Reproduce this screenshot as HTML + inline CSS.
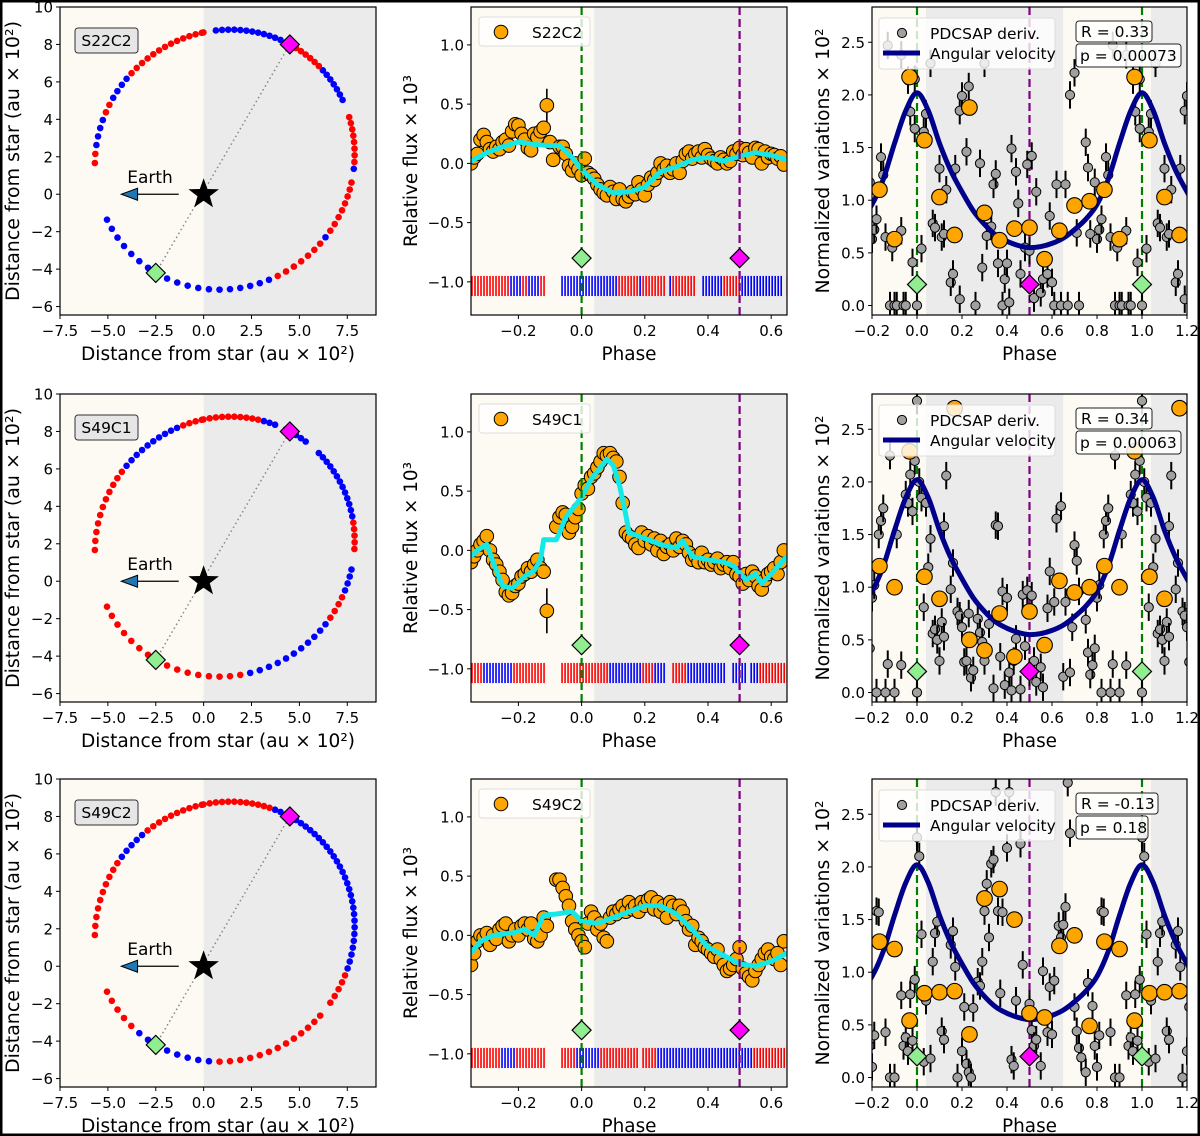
<!DOCTYPE html>
<html><head><meta charset="utf-8">
<style>
html,body{margin:0;padding:0;background:#fff;}
svg{display:block;font-family:"DejaVu Sans","Liberation Sans",sans-serif;}
</style></head>
<body>
<svg id="fig" width="1200" height="1136" viewBox="0 0 1200 1136" xmlns="http://www.w3.org/2000/svg"></svg>
<script>
// ---------- DATA ----------
const rowNames = ['S22C2','S49C1','S49C2'];
const statR = ['R = 0.33','R = 0.34','R = -0.13'];
const statP = ['p = 0.00073','p = 0.00063','p = 0.18'];

// Orbit parameters (au x 10^2)
const orbitA = 7.03;
const orbitE = 0.306;
const orbitOmegaDeg = -120.8;
const periPt = [-2.5,-4.2];
const apoPt = [4.5,8.0];

// Rug / orbit colour segments: [startPhase, endPhase, colour]
const rug1 = [[-0.35,-0.23,'r'],[-0.23,-0.19,'b'],[-0.19,-0.17,'r'],[-0.17,-0.14,'b'],[-0.14,-0.12,'r'],[-0.07,0.11,'b'],[0.11,0.18,'r'],[0.18,0.19,'b'],[0.19,0.26,'r'],[0.27,0.28,'b'],[0.28,0.36,'r'],[0.38,0.44,'b'],[0.44,0.50,'r'],[0.50,0.63,'b'],[0.64,0.65,'r']];
const rug2 = [[-0.35,-0.32,'r'],[-0.32,-0.22,'b'],[-0.22,-0.12,'r'],[-0.073,0.087,'r'],[0.087,0.187,'b'],[0.187,0.224,'r'],[0.224,0.266,'b'],[0.282,0.334,'r'],[0.334,0.45,'b'],[0.476,0.518,'b'],[0.53,0.56,'b'],[0.56,0.65,'r']];
const rug3 = [[-0.35,-0.26,'r'],[-0.26,-0.213,'b'],[-0.213,-0.118,'r'],[-0.073,-0.023,'r'],[-0.023,0.056,'b'],[0.056,0.177,'r'],[0.19,0.235,'r'],[0.235,0.54,'b'],[0.54,0.65,'r']];

// Middle panel flux points [phase, value]
const flux1 = [[-0.35,0.0],[-0.34,0.05],[-0.33,0.08],[-0.32,0.2],[-0.31,0.24],[-0.3,0.18],[-0.29,0.12],[-0.28,0.1],[-0.27,0.14],[-0.26,0.12],[-0.25,0.18],[-0.24,0.2],[-0.23,0.15],[-0.22,0.27],[-0.21,0.33],[-0.2,0.32],[-0.19,0.25],[-0.18,0.2],[-0.17,0.13],[-0.16,0.11],[-0.15,0.25],[-0.14,0.22],[-0.13,0.27],[-0.12,0.3],[-0.11,0.49],[-0.1,0.18],[-0.09,0.03],[-0.07,0.14],[-0.06,0.14],[-0.05,0.08],[-0.04,-0.02],[-0.03,-0.06],[-0.02,0.0],[-0.01,-0.05],[0.0,-0.1],[0.01,0.04],[0.02,-0.08],[0.03,-0.1],[0.04,-0.13],[0.05,-0.18],[0.06,-0.22],[0.07,-0.25],[0.08,-0.27],[0.09,-0.2],[0.1,-0.24],[0.11,-0.3],[0.12,-0.22],[0.13,-0.3],[0.14,-0.32],[0.15,-0.28],[0.16,-0.24],[0.17,-0.26],[0.18,-0.16],[0.19,-0.22],[0.2,-0.27],[0.21,-0.18],[0.22,-0.12],[0.23,-0.14],[0.24,-0.08],[0.25,0.0],[0.26,-0.05],[0.27,-0.02],[0.28,-0.08],[0.29,-0.05],[0.3,0.0],[0.31,-0.08],[0.32,0.02],[0.33,0.08],[0.34,0.1],[0.35,0.04],[0.36,0.08],[0.37,0.1],[0.38,0.05],[0.39,0.12],[0.4,0.07],[0.41,0.04],[0.42,0.02],[0.43,0.0],[0.44,0.05],[0.45,0.03],[0.46,0.0],[0.47,0.02],[0.48,0.1],[0.49,0.08],[0.5,0.13],[0.51,0.07],[0.52,0.12],[0.53,0.09],[0.54,0.05],[0.55,0.13],[0.56,0.12],[0.57,0.0],[0.58,0.1],[0.59,0.05],[0.6,0.08],[0.61,0.07],[0.62,0.04],[0.63,0.06],[0.64,-0.01]];
const flux2 = [[-0.35,-0.1],[-0.34,-0.05],[-0.33,0.0],[-0.32,0.05],[-0.31,0.08],[-0.30,0.12],[-0.29,0.0],[-0.28,-0.08],[-0.27,-0.12],[-0.26,-0.18],[-0.25,-0.25],[-0.24,-0.35],[-0.23,-0.38],[-0.22,-0.36],[-0.21,-0.3],[-0.2,-0.28],[-0.19,-0.22],[-0.18,-0.2],[-0.17,-0.15],[-0.16,-0.18],[-0.15,-0.12],[-0.14,-0.08],[-0.13,-0.15],[-0.12,-0.18],[-0.11,-0.51],[-0.08,0.2],[-0.07,0.28],[-0.06,0.32],[-0.05,0.3],[-0.04,0.15],[-0.03,0.2],[-0.02,0.28],[-0.01,0.35],[0.0,0.48],[0.01,0.55],[0.02,0.52],[0.03,0.62],[0.04,0.65],[0.05,0.7],[0.06,0.75],[0.07,0.82],[0.08,0.8],[0.09,0.82],[0.1,0.78],[0.11,0.75],[0.12,0.62],[0.13,0.4],[0.14,0.15],[0.15,0.12],[0.16,0.1],[0.17,0.05],[0.18,0.02],[0.19,0.15],[0.2,0.08],[0.21,0.12],[0.22,0.05],[0.23,0.1],[0.24,0.0],[0.25,0.08],[0.26,-0.03],[0.27,0.03],[0.28,0.05],[0.29,0.0],[0.3,0.1],[0.31,0.03],[0.32,0.08],[0.33,0.05],[0.34,-0.02],[0.35,-0.08],[0.36,-0.05],[0.37,-0.1],[0.38,-0.02],[0.39,-0.1],[0.4,-0.08],[0.41,-0.12],[0.42,-0.1],[0.43,-0.07],[0.44,-0.15],[0.45,-0.12],[0.46,-0.1],[0.47,-0.15],[0.48,-0.1],[0.49,-0.2],[0.5,-0.22],[0.51,-0.28],[0.52,-0.2],[0.53,-0.25],[0.54,-0.18],[0.55,-0.22],[0.56,-0.3],[0.57,-0.33],[0.58,-0.25],[0.59,-0.2],[0.6,-0.18],[0.61,-0.15],[0.62,-0.2],[0.63,-0.1],[0.64,0.0]];
const flux3 = [[-0.35,-0.25],[-0.34,-0.15],[-0.33,-0.05],[-0.32,0.0],[-0.31,-0.02],[-0.3,0.02],[-0.29,-0.08],[-0.28,0.0],[-0.27,-0.03],[-0.26,0.05],[-0.25,0.08],[-0.24,0.1],[-0.23,-0.05],[-0.22,0.0],[-0.21,0.05],[-0.2,0.0],[-0.19,0.08],[-0.18,0.1],[-0.17,0.05],[-0.16,0.1],[-0.15,-0.03],[-0.14,-0.05],[-0.13,0.0],[-0.12,0.15],[-0.11,0.08],[-0.08,0.47],[-0.07,0.47],[-0.06,0.4],[-0.05,0.33],[-0.04,0.25],[-0.03,0.12],[-0.02,0.05],[-0.01,0.0],[0.0,-0.05],[0.01,-0.1],[0.02,0.1],[0.03,0.2],[0.04,0.15],[0.05,0.05],[0.06,0.1],[0.07,-0.02],[0.08,-0.05],[0.09,0.15],[0.1,0.2],[0.11,0.18],[0.12,0.22],[0.13,0.25],[0.14,0.2],[0.15,0.28],[0.16,0.22],[0.17,0.25],[0.18,0.2],[0.19,0.28],[0.2,0.25],[0.21,0.3],[0.22,0.32],[0.23,0.22],[0.24,0.28],[0.25,0.2],[0.26,0.25],[0.27,0.15],[0.28,0.28],[0.29,0.25],[0.3,0.18],[0.31,0.25],[0.32,0.2],[0.33,0.12],[0.34,0.05],[0.35,0.08],[0.36,-0.08],[0.37,-0.02],[0.38,-0.05],[0.39,-0.1],[0.4,-0.12],[0.41,-0.15],[0.42,-0.18],[0.43,-0.12],[0.44,-0.2],[0.45,-0.25],[0.46,-0.3],[0.47,-0.28],[0.48,-0.25],[0.49,-0.2],[0.5,-0.1],[0.51,-0.28],[0.52,-0.32],[0.53,-0.35],[0.54,-0.38],[0.55,-0.3],[0.56,-0.25],[0.57,-0.2],[0.58,-0.15],[0.59,-0.12],[0.6,-0.18],[0.61,-0.2],[0.62,-0.15],[0.63,-0.25],[0.64,-0.05]];
// Outlier points with error bars [phase, value, err]
const fluxOut1 = [[-0.11,0.49,0.14]];
const fluxOut2 = [[-0.11,-0.51,0.19]];
const fluxOut3 = [];

// Smoothed (cyan) curves
const smooth1 = [[-0.35,0.02],[-0.3,0.09],[-0.25,0.14],[-0.2,0.18],[-0.15,0.16],[-0.1,0.15],[-0.07,0.15],[-0.03,0.05],[0.0,-0.05],[0.05,-0.18],[0.1,-0.25],[0.15,-0.24],[0.2,-0.2],[0.25,-0.07],[0.3,-0.03],[0.35,0.03],[0.4,0.05],[0.45,0.02],[0.5,0.06],[0.55,0.09],[0.6,0.07],[0.65,0.03]];
const smooth2 = [[-0.35,-0.05],[-0.33,0.0],[-0.3,0.05],[-0.28,-0.1],[-0.25,-0.3],[-0.22,-0.32],[-0.18,-0.22],[-0.15,-0.17],[-0.13,-0.08],[-0.12,0.09],[-0.08,0.09],[-0.07,0.15],[-0.05,0.28],[-0.02,0.38],[0.0,0.45],[0.03,0.6],[0.06,0.7],[0.08,0.77],[0.1,0.72],[0.12,0.55],[0.14,0.3],[0.15,0.15],[0.2,0.1],[0.25,0.05],[0.3,0.02],[0.32,0.08],[0.35,-0.05],[0.4,-0.08],[0.45,-0.1],[0.48,-0.13],[0.52,-0.25],[0.55,-0.2],[0.57,-0.28],[0.6,-0.2],[0.65,-0.05]];
const smooth3 = [[-0.35,-0.15],[-0.32,-0.05],[-0.28,0.0],[-0.22,0.02],[-0.18,0.05],[-0.15,0.0],[-0.12,0.17],[-0.08,0.18],[-0.03,0.2],[0.0,0.12],[0.05,0.1],[0.1,0.15],[0.15,0.2],[0.2,0.25],[0.25,0.25],[0.3,0.18],[0.35,0.05],[0.4,-0.1],[0.45,-0.17],[0.5,-0.24],[0.55,-0.26],[0.6,-0.22],[0.65,-0.15]];

// Right panel: binned (orange) points, period 1
const binPhase = [0.033,0.1,0.167,0.233,0.3,0.367,0.433,0.5,0.567,0.633,0.7,0.767,0.833,0.9,0.967];
const bin1 = [1.57,1.03,0.67,1.88,0.88,0.62,0.73,0.74,0.44,0.71,0.95,0.99,1.10,0.63,2.17];
const bin2 = [1.10,0.89,2.70,0.50,0.40,0.75,0.34,0.77,0.45,1.06,0.95,1.00,1.20,1.00,2.29];
const bin3 = [0.80,0.81,0.82,0.41,1.70,1.79,1.50,0.61,0.57,1.25,1.35,0.49,1.29,1.22,0.54];

// Angular velocity model over one period (step 0.05)
const avPhase = [0,0.05,0.1,0.15,0.2,0.25,0.3,0.35,0.4,0.45,0.5,0.55,0.6,0.65,0.7,0.75,0.8,0.85,0.9,0.95,1.0];
const avValue = [2.02,1.85,1.54,1.28,1.08,0.90,0.77,0.67,0.61,0.57,0.55,0.56,0.59,0.64,0.72,0.82,0.96,1.2,1.54,1.85,2.02];

// PDCSAP derivative points [phase, value]
const gray1 = [[0.02,0.54],[0.03,1.65],[0.04,1.82],[0.06,2.3],[0.07,0.78],[0.08,0.74],[0.1,1.3],[0.11,0.65],[0.12,0.68],[0.13,1.1],[0.15,0.22],[0.16,0.3],[0.17,1.3],[0.19,0.06],[0.19,1.85],[0.2,1.99],[0.22,1.46],[0.23,2.08],[0.26,0.0],[0.28,1.35],[0.29,0.36],[0.30,2.3],[0.31,0.66],[0.33,0.75],[0.34,1.15],[0.35,1.25],[0.36,0.4],[0.38,0.0],[0.39,0.25],[0.40,0.40],[0.41,0.03],[0.42,1.49],[0.44,1.27],[0.45,0.97],[0.46,0.3],[0.48,0.55],[0.49,1.34],[0.50,0.52],[0.51,1.42],[0.52,0.07],[0.53,1.08],[0.55,0.12],[0.56,0.25],[0.58,0.3],[0.59,0.85],[0.60,0.22],[0.61,0.0],[0.62,1.15],[0.64,0.0],[0.66,1.15],[0.67,0.0],[0.68,2.0],[0.7,2.21],[0.71,0.69],[0.72,0.0],[0.75,1.55],[0.76,1.31],[0.77,0.68],[0.79,1.17],[0.80,0.63],[0.81,0.72],[0.82,0.82],[0.84,1.41],[0.85,1.24],[0.86,0.65],[0.87,2.47],[0.88,0.0],[0.89,0.55],[0.90,0.0],[0.91,0.0],[0.93,0.71],[0.94,0.0],[0.95,0.0],[0.97,1.84],[0.98,0.41],[0.99,1.68],[1.0,0.0],[0.99,2.15],[0.93,2.38],[0.96,2.14]];
const gray2 = [[0.0,0.0],[0.0,2.77],[0.01,2.0],[0.02,1.85],[0.03,0.81],[0.04,1.8],[0.05,1.19],[0.06,1.46],[0.07,0.56],[0.08,0.6],[0.09,0.5],[0.1,0.3],[0.11,0.67],[0.12,0.53],[0.12,1.58],[0.13,2.06],[0.15,0.98],[0.16,1.23],[0.18,0.77],[0.19,0.73],[0.2,0.62],[0.21,0.29],[0.22,0.3],[0.23,0.75],[0.24,0.14],[0.25,0.21],[0.27,0.7],[0.28,0.57],[0.29,0.48],[0.3,0.3],[0.32,0.65],[0.34,0.04],[0.35,1.59],[0.36,1.58],[0.37,0.34],[0.38,0.96],[0.39,0.07],[0.4,0.9],[0.41,0.19],[0.42,0.02],[0.43,0.3],[0.44,0.51],[0.46,0.03],[0.47,0.93],[0.48,0.44],[0.49,0.97],[0.5,0.19],[0.51,0.92],[0.52,0.3],[0.53,0.1],[0.55,0.24],[0.56,0.05],[0.58,0.8],[0.59,1.15],[0.61,0.86],[0.62,1.65],[0.64,1.77],[0.65,0.15],[0.66,0.86],[0.68,0.19],[0.69,0.62],[0.7,1.4],[0.71,1.25],[0.72,0.96],[0.75,0.69],[0.76,0.38],[0.77,0.17],[0.78,0.26],[0.79,0.42],[0.8,0.9],[0.81,1.02],[0.82,0.0],[0.83,1.5],[0.84,1.63],[0.85,1.75],[0.86,0.0],[0.87,0.27],[0.88,2.25],[0.9,0.0],[0.91,1.5],[0.93,0.26],[0.95,1.88],[0.96,1.8],[0.97,2.07],[0.98,1.72],[0.99,2.2]];
const gray3 = [[0.0,2.28],[0.01,2.1],[0.02,1.36],[0.03,0.15],[0.04,0.73],[0.06,0.18],[0.07,1.1],[0.08,1.37],[0.09,1.48],[0.11,0.44],[0.12,0.36],[0.15,1.26],[0.16,1.39],[0.17,1.05],[0.18,0.0],[0.2,0.25],[0.21,0.67],[0.22,0.13],[0.23,0.05],[0.24,0.0],[0.25,0.66],[0.27,0.91],[0.28,0.87],[0.29,1.1],[0.3,1.58],[0.31,1.84],[0.32,1.33],[0.33,2.03],[0.34,2.07],[0.35,2.71],[0.36,1.58],[0.37,0.8],[0.38,1.57],[0.4,2.18],[0.41,2.71],[0.42,0.17],[0.43,0.11],[0.44,0.73],[0.46,2.22],[0.47,1.07],[0.5,0.7],[0.51,0.45],[0.52,0.3],[0.53,0.36],[0.55,0.11],[0.56,1.01],[0.58,0.43],[0.59,0.86],[0.6,0.41],[0.61,0.92],[0.63,1.44],[0.64,1.33],[0.65,1.45],[0.66,1.62],[0.67,2.8],[0.68,2.32],[0.7,0.67],[0.71,0.44],[0.72,0.28],[0.73,0.19],[0.75,0.05],[0.76,0.9],[0.78,0.68],[0.79,0.3],[0.8,0.1],[0.81,0.4],[0.82,1.58],[0.83,1.57],[0.86,0.43],[0.88,0.0],[0.9,0.0],[0.93,0.78],[0.94,0.3],[0.95,0.38],[0.96,0.25],[0.97,0.79],[0.99,0.93],[0.98,0.35]];

const leftXTicks = [-7.5,-5,-2.5,0,2.5,5,7.5];
const leftYTicks = [-6,-4,-2,0,2,4,6,8,10];
const midXTicks = [-0.2,0,0.2,0.4,0.6];
const midYTicks = [-1,-0.5,0,0.5,1];
const rightXTicks = [-0.2,0,0.2,0.4,0.6,0.8,1.0,1.2];
const rightYTicks = [0,0.5,1,1.5,2,2.5];

// ---------- DRAWING ----------
const NS='http://www.w3.org/2000/svg';
const svg=document.getElementById('fig');
function mk(tag,attrs,parent){const e=document.createElementNS(NS,tag);for(const k in attrs)e.setAttribute(k,attrs[k]);(parent||svg).appendChild(e);return e;}
function lin(d0,d1,p0,p1){return v=>p0+(v-d0)/(d1-d0)*(p1-p0);}
function fmt(v,dec){const s=Math.abs(v).toFixed(dec);return (v<0?'\u2212':'')+s;}
const COL={r:'#ff0000',b:'#0000ff'};
const tops=[7,394,779]; const H=308;
const rugs=[rug1,rug2,rug3], fluxes=[flux1,flux2,flux3], outs=[fluxOut1,fluxOut2,fluxOut3], smooths=[smooth1,smooth2,smooth3], bins=[bin1,bin2,bin3], grays=[gray1,gray2,gray3];
const rugStep=0.0095;
function rugColor(seg,p){for(const s of seg){if(p>=s[0]&&p<s[1])return s[2];}return null;}

const border=mk('rect',{x:1,y:1,width:1198,height:1134,fill:'none',stroke:'#000','stroke-width':3});



function frameAxes(g,x0,x1,y0,y1,sx,sy,xt,xdec,yt,ydec,xlabel,xlen,ylabel,ylen,ylx,clipId){
  const cp=mk('clipPath',{id:clipId},g);
  mk('rect',{x:x0,y:y0,width:x1-x0,height:y1-y0},cp);
  for(const t of xt){const X=sx(t);
    mk('line',{x1:X,x2:X,y1:y1,y2:y1+4,stroke:'#000','stroke-width':1},g);
    const tx=mk('text',{x:X,y:y1+21,'text-anchor':'middle','font-size':15,fill:'#000'},g);tx.textContent=fmt(t,xdec);
    
    }
  for(const t of yt){const Y=sy(t);
    mk('line',{x1:x0-4,x2:x0,y1:Y,y2:Y,stroke:'#000','stroke-width':1},g);
    const ty=mk('text',{x:x0-7,y:Y+5.5,'text-anchor':'end','font-size':15,fill:'#000'},g);ty.textContent=fmt(t,ydec);
    
    }
  const xl=mk('text',{x:(x0+x1)/2,y:y1+45,'text-anchor':'middle','font-size':18.5,fill:'#000',textLength:xlen,lengthAdjust:'spacingAndGlyphs'},g);
  xl.textContent=xlabel;
  
  
  const yl=mk('text',{x:0,y:0,'text-anchor':'middle','font-size':18.5,fill:'#000',textLength:ylen,lengthAdjust:'spacingAndGlyphs',transform:`translate(${ylx},${(y0+y1)/2}) rotate(-90)`},g);
  yl.textContent=ylabel;
  
  
}
function diamond(g,cx,cy,r,fill){return mk('polygon',{points:`${cx},${cy-r} ${cx+r},${cy} ${cx},${cy+r} ${cx-r},${cy}`,fill:fill,stroke:'#000','stroke-width':1.2},g);}
function vdash(g,X,y0,y1,col){return mk('line',{x1:X,x2:X,y1:y0,y2:y1,stroke:col,'stroke-width':2.2,'stroke-dasharray':'8,4'},g);}

function kepler(ph){const M=2*Math.PI*ph;let E=M;for(let i=0;i<30;i++)E=E-(E-orbitE*Math.sin(E)-M)/(1-orbitE*Math.cos(E));
  const b=orbitA*Math.sqrt(1-orbitE*orbitE);const xp=orbitA*(Math.cos(E)-orbitE),yp=b*Math.sin(E);
  const w=orbitOmegaDeg*Math.PI/180;return [xp*Math.cos(w)-yp*Math.sin(w),xp*Math.sin(w)+yp*Math.cos(w)];}

for(let r=0;r<3;r++){
  const T=tops[r],B=T+H;
  // ===== LEFT PANEL =====
  {
  const g=mk('g',{});
  
  
  const x0=60,x1=376;const sx=lin(-7.5,9.0,x0,x1),sy=lin(-6.45,10,B,T);
  const bg1=mk('rect',{x:x0,y:T,width:sx(0)-x0,height:H,fill:'#fdfaf4'},g);
  
  
  const bg2=mk('rect',{x:sx(0),y:T,width:x1-sx(0),height:H,fill:'#ebebeb'},g);
  
  
  const dl=mk('line',{x1:sx(periPt[0]),y1:sy(periPt[1]),x2:sx(apoPt[0]),y2:sy(apoPt[1]),stroke:'#888','stroke-width':1.5,'stroke-dasharray':'1.5,3'},g);
  
  
  for(let p=-0.35;p<0.65;p+=rugStep){const c=rugColor(rugs[r],p);if(!c)continue;const pos=kepler(p);
    const d=mk('circle',{cx:sx(pos[0]),cy:sy(pos[1]),r:3.3,fill:COL[c]},g);
    
    }
  const dm=diamond(g,sx(apoPt[0]),sy(apoPt[1]),9.5,'#ff00ff');
  
  
  const dg=diamond(g,sx(periPt[0]),sy(periPt[1]),9.5,'#90ee90');
  
  
  const cx=sx(0),cy=sy(0);let pts=[];for(let i=0;i<10;i++){const a=-Math.PI/2+i*Math.PI/5;const rr=i%2?6.5:16;pts.push((cx+rr*Math.cos(a)).toFixed(1)+','+(cy+rr*Math.sin(a)).toFixed(1));}
  const st=mk('polygon',{points:pts.join(' '),fill:'#000'},g);
  
  
  const ay=sy(0);
  const al=mk('line',{x1:sx(-1.3),x2:sx(-3.5),y1:ay,y2:ay,stroke:'#000','stroke-width':1.3},g);
  
  
  const ah=mk('polygon',{points:`${sx(-4.3)},${ay} ${sx(-3.45)},${ay-6} ${sx(-3.45)},${ay+6}`,fill:'#1f77b4',stroke:'#000','stroke-width':1},g);
  
  
  const et=mk('text',{x:sx(-2.8),y:sy(0.6),'text-anchor':'middle','font-size':17,fill:'#000'},g);et.textContent='Earth';
  
  
  const lb=mk('rect',{x:75,y:T+21,width:63,height:25,rx:3,fill:'#e6e6e6',stroke:'#333','stroke-width':1},g);
  
  
  const lt=mk('text',{x:106.5,y:T+39,'text-anchor':'middle','font-size':15.5,fill:'#000'},g);lt.textContent=rowNames[r];
  
  
  mk('rect',{x:x0,y:T,width:x1-x0,height:H,fill:'none',stroke:'#000','stroke-width':1.2},g);
  frameAxes(g,x0,x1,T,B,sx,sy,leftXTicks,1,leftYTicks,0,'Distance from star (au × 10²)',274,'Distance from star (au × 10²)',280,19,'cl'+r);
  }
  // ===== MIDDLE PANEL =====
  {
  const g=mk('g',{});
  
  
  const x0=471,x1=787;const sx=lin(-0.35,0.65,x0,x1),sy=lin(-1.28,1.32,B,T);
  const inner=mk('g',{'clip-path':`url(#cm${r})`},g);
  const b1=mk('rect',{x:x0,y:T,width:sx(0.04)-x0,height:H,fill:'#fdfaf4'},inner);
  
  
  const b2=mk('rect',{x:sx(0.04),y:T,width:x1-sx(0.04),height:H,fill:'#ebebeb'},inner);
  
  
  for(let p=-0.35;p<0.65;p+=rugStep){const c=rugColor(rugs[r],p);if(!c)continue;
    const l=mk('line',{x1:sx(p)+1,x2:sx(p)+1,y1:sy(-0.95),y2:sy(-1.12),stroke:COL[c],'stroke-width':1.6},inner);
    
    }
  for(const o of outs[r]){const e=mk('line',{x1:sx(o[0]),x2:sx(o[0]),y1:sy(o[1]-o[2]),y2:sy(o[1]+o[2]),stroke:'#000','stroke-width':1.6},inner);
    
    }
  for(const f of fluxes[r]){const c=mk('circle',{cx:sx(f[0]),cy:sy(f[1]),r:6.8,fill:'#ffa500',stroke:'#000','stroke-width':1},inner);
    
    }
  const sp=smooths[r].map(q=>sx(q[0]).toFixed(1)+','+sy(q[1]).toFixed(1)).join(' ');
  const pl=mk('polyline',{points:sp,fill:'none',stroke:'#16e8e8','stroke-width':5,'stroke-linejoin':'round'},inner);
  
  
  const v0=vdash(inner,sx(0),T,B,'#008000');
  
  
  const v5=vdash(inner,sx(0.5),T,B,'#800080');
  
  
  const d1=diamond(inner,sx(0),sy(-0.8),9.5,'#90ee90');
  
  
  const d2=diamond(inner,sx(0.5),sy(-0.8),9.5,'#ff00ff');
  
  
  const lg=mk('rect',{x:479,y:T+10,width:111,height:29,rx:3,fill:'#ffffff','fill-opacity':0.8,stroke:'#ddd'},g);
  
  
  const lm=mk('circle',{cx:501,cy:T+25,r:6.8,fill:'#ffa500',stroke:'#000'},g);
  
  
  const ltx=mk('text',{x:532,y:T+31,'font-size':15.5,fill:'#000'},g);ltx.textContent=rowNames[r];
  
  
  mk('rect',{x:x0,y:T,width:x1-x0,height:H,fill:'none',stroke:'#000','stroke-width':1.2},g);
  frameAxes(g,x0,x1,T,B,sx,sy,midXTicks,1,midYTicks,1,'Phase',55,'Relative flux × 10³',172,417,'cm'+r);
  }
  // ===== RIGHT PANEL =====
  {
  const g=mk('g',{});
  
  
  const x0=872,x1=1187;const sx=lin(-0.2,1.2,x0,x1),sy=lin(-0.09,2.835,B,T);
  const inner=mk('g',{'clip-path':`url(#cr${r})`},g);
  const shades=[[-0.2,0.04,'#fdfaf4'],[0.04,0.65,'#ebebeb'],[0.65,1.04,'#fdfaf4'],[1.04,1.2,'#ebebeb']];
  for(const s of shades){const rr=mk('rect',{x:sx(s[0]),y:T,width:sx(s[1])-sx(s[0]),height:H,fill:s[2]},inner);
    
    }
  for(const ph of [0,1]){const v=vdash(inner,sx(ph),T,B,'#008000');
    
    }
  const vp=vdash(inner,sx(0.5),T,B,'#800080');
  
  
  for(const q of grays[r]){for(const sh of [-1,0,1]){const p=q[0]+sh;if(p<-0.22||p>1.22)continue;
    const e=mk('line',{x1:sx(p),x2:sx(p),y1:sy(q[1]-0.13),y2:sy(q[1]+0.13),stroke:'#000','stroke-width':2},inner);
    
    
    const c=mk('circle',{cx:sx(p),cy:sy(q[1]),r:4.6,fill:'#a0a0a0',stroke:'#000','stroke-width':1},inner);
    
    }}
  let ap=[];for(const sh of [-1,0,1]){for(let i=0;i<avPhase.length;i++){const p=avPhase[i]+sh;if(sh<1&&i===avPhase.length-1)continue;ap.push([sx(p),sy(avValue[i])]);}}
  let d=`M${ap[0][0]},${ap[0][1]}`;
  for(let i=0;i<ap.length-1;i++){const p0=ap[Math.max(0,i-1)],p1=ap[i],p2=ap[i+1],p3=ap[Math.min(ap.length-1,i+2)];
    d+=` C${(p1[0]+(p2[0]-p0[0])/6).toFixed(1)},${(p1[1]+(p2[1]-p0[1])/6).toFixed(1)} ${(p2[0]-(p3[0]-p1[0])/6).toFixed(1)},${(p2[1]-(p3[1]-p1[1])/6).toFixed(1)} ${p2[0].toFixed(1)},${p2[1].toFixed(1)}`;}
  const cv=mk('path',{d:d,fill:'none',stroke:'#00008b','stroke-width':5},inner);
  
  
  for(let i=0;i<binPhase.length;i++){for(const sh of [-1,0,1]){const p=binPhase[i]+sh;if(p<-0.22||p>1.22)continue;
    const c=mk('circle',{cx:sx(p),cy:sy(bins[r][i]),r:7.8,fill:'#ffa500',stroke:'#000','stroke-width':1.1},inner);
    
    }}
  for(const ph of [0,1]){const dd=diamond(inner,sx(ph),sy(0.2),9.5,'#90ee90');
    
    }
  const dm=diamond(inner,sx(0.5),sy(0.2),9.5,'#ff00ff');
  
  
  const lg=mk('rect',{x:879,y:T+11,width:176,height:51,rx:3,fill:'#ffffff','fill-opacity':0.8,stroke:'#ddd'},g);
  
  
  const lm=mk('circle',{cx:902,cy:T+26,r:4.6,fill:'#a0a0a0',stroke:'#000'},g);
  
  
  const l1=mk('text',{x:930,y:T+32,'font-size':15.5,fill:'#000'},g);l1.textContent='PDCSAP deriv.';
  
  
  const ll=mk('line',{x1:883,x2:920,y1:T+46,y2:T+46,stroke:'#00008b','stroke-width':5},g);
  
  
  const l2=mk('text',{x:930,y:T+52,'font-size':15.5,fill:'#000'},g);l2.textContent='Angular velocity';
  
  
  const rw=r===2?82:76;
  const rb=mk('rect',{x:1076,y:T+14,width:rw,height:21,rx:3,fill:'#fff','fill-opacity':0.85,stroke:'#222'},g);
  
  
  const rt=mk('text',{x:1081,y:T+30,'font-size':15.5,fill:'#000'},g);rt.textContent=statR[r];
  
  
  const pw=[105,105,72][r];
  const pb=mk('rect',{x:1076,y:T+37,width:pw,height:23,rx:3,fill:'#fff','fill-opacity':0.85,stroke:'#222'},g);
  
  
  const pt=mk('text',{x:1080,y:T+54,'font-size':15.5,fill:'#000'},g);pt.textContent=statP[r];
  
  
  mk('rect',{x:x0,y:T,width:x1-x0,height:H,fill:'none',stroke:'#000','stroke-width':1.2},g);
  frameAxes(g,x0,x1,T,B,sx,sy,rightXTicks,1,rightYTicks,1,'Phase',55,'Normalized variations × 10²',265,829,'cr'+r);
  }
}
</script>
</body></html>
